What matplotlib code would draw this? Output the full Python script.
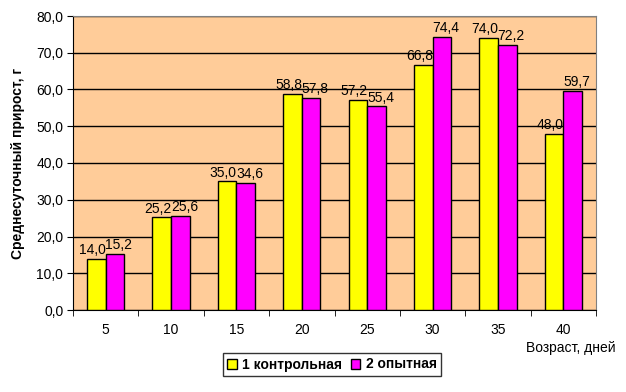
import numpy as np
import matplotlib.pyplot as plt

plt.rcParams['font.family'] = ['Liberation Sans', 'DejaVu Sans']

days = ['5', '10', '15', '20', '25', '30', '35', '40']
control = [14.0, 25.2, 35.0, 58.8, 57.2, 66.8, 74.0, 48.0]
trial = [15.2, 25.6, 34.6, 57.8, 55.4, 74.4, 72.2, 59.7]
series_names = ['1 контрольная', '2 опытная']

fig = plt.figure(figsize=(6.26, 3.92), dpi=100)
ax = fig.add_axes([73 / 626, 1 - 310 / 392, (596 - 73) / 626, (310 - 16) / 392])
ax.set_facecolor('#FFCC99')

x = np.arange(len(days))
w = 1 / 3.5
b1 = ax.bar(x - w / 2, control, w, color='#FFFF00', edgecolor='black', linewidth=1, zorder=3,
            label=series_names[0])
b2 = ax.bar(x + w / 2, trial, w, color='#FF00FF', edgecolor='black', linewidth=1, zorder=3,
            label=series_names[1])

fmt = lambda v: f'{v:.1f}'.replace('.', ',')
for bars, vals, dx in ((b1, control, -0.06), (b2, trial, 0.06)):
    for r, v in zip(bars, vals):
        ax.text(r.get_x() + r.get_width() / 2 + dx, v + 0.5, fmt(v), ha='center', va='bottom',
                fontsize=10, zorder=4)

ax.set_xlim(-0.5, len(days) - 0.5)
ax.set_ylim(0, 80)
ax.set_yticks(np.arange(0, 81, 10))
ax.set_yticklabels([fmt(v) for v in np.arange(0, 81, 10)], fontsize=10)
ax.yaxis.grid(True, color='black', linewidth=1, zorder=1)
ax.set_xticks(x)
ax.set_xticklabels(days, fontsize=10)
ax.set_xticks(np.arange(-0.5, len(days)), minor=True)
ax.tick_params(axis='x', which='major', length=0, pad=9)
ax.tick_params(axis='x', which='minor', length=4, direction='out')
ax.tick_params(axis='y', length=4, direction='out', pad=3)

for s in ('top', 'right'):
    ax.spines[s].set_color('#808080')
for s in ('left', 'bottom'):
    ax.spines[s].set_color('black')

fig.text(18 / 626, 1 - 163 / 392, 'Среднесуточный прирост, г', rotation=90, ha='center',
         va='center', fontsize=10, fontweight='bold')
fig.text(616 / 626, 1 - 348 / 392, 'Возраст, дней', ha='right', va='center', fontsize=10)

leg = fig.legend(loc='center', bbox_to_anchor=(332 / 626, 1 - 364.5 / 392), ncol=2,
                 prop={'size': 10, 'weight': 'bold'}, frameon=True, fancybox=False,
                 edgecolor='black', handlelength=0.7, handleheight=0.7, handletextpad=0.4,
                 columnspacing=0.6, borderpad=0.3)
leg.get_frame().set_linewidth(1)

fig.savefig('out.png', dpi=100, facecolor='white')
